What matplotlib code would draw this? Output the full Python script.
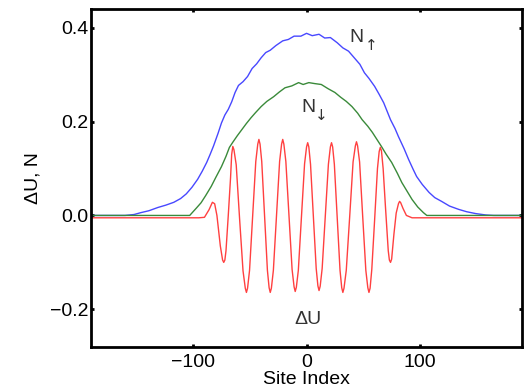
import numpy as np
import matplotlib.pyplot as plt

plt.rcParams['font.family'] = ['Liberation Sans', 'DejaVu Sans']
plt.rcParams['axes.unicode_minus'] = True

# N_up (blue)
up_x = [-190, -160, -152, -146, -139, -131, -124, -117, -111, -106, -101, -96, -92, -88,
        -85, -82, -78, -75, -72, -69, -66, -63, -60, -56, -52, -48, -44, -40, -36, -32,
        -27, -21, -16, -11, -5, 0, 5, 11, 16, 21, 27, 32, 37, 42, 47, 51, 55, 60, 64, 68,
        71, 74, 78, 81, 86, 90, 94, 97, 102, 108, 113, 119, 126, 134, 141, 149, 158, 165, 190]
up_y = [0.0, 0.0, 0.002, 0.006, 0.010, 0.017, 0.022, 0.028, 0.036, 0.046, 0.060, 0.077,
        0.094, 0.113, 0.130, 0.148, 0.175, 0.197, 0.214, 0.226, 0.242, 0.262, 0.277, 0.285,
        0.296, 0.313, 0.323, 0.336, 0.347, 0.352, 0.362, 0.372, 0.375, 0.382, 0.382, 0.388,
        0.383, 0.386, 0.378, 0.379, 0.368, 0.357, 0.350, 0.336, 0.322, 0.304, 0.292, 0.275,
        0.258, 0.240, 0.222, 0.204, 0.185, 0.168, 0.142, 0.119, 0.098, 0.083, 0.066, 0.049,
        0.038, 0.030, 0.020, 0.013, 0.008, 0.004, 0.001, 0.0, 0.0]

# N_down (green)
dn_x = [-190, -103, -100, -97, -93, -89, -84, -80, -75, -71, -68, -65, -61, -57, -53, -49,
        -45, -40, -35, -29, -24, -19, -13, -7, -3, 2, 7, 13, 19, 25, 30, 35, 40, 45, 49, 54,
        58, 62, 66, 70, 75, 80, 84, 89, 93, 98, 103, 106, 190]
dn_y = [0.0, 0.0, 0.008, 0.016, 0.027, 0.042, 0.062, 0.081, 0.104, 0.126, 0.145, 0.156,
        0.170, 0.183, 0.196, 0.208, 0.219, 0.232, 0.243, 0.253, 0.263, 0.272, 0.276, 0.283,
        0.279, 0.283, 0.281, 0.279, 0.270, 0.262, 0.252, 0.243, 0.232, 0.218, 0.204, 0.190,
        0.177, 0.162, 0.147, 0.131, 0.113, 0.090, 0.070, 0.050, 0.034, 0.018, 0.006, 0.0, 0.0]

# Delta U (red)
du_x = [-190, -95, -90, -86, -83, -81, -79, -76, -74, -73, -72, -71, -69, -67, -66, -65, -64,
        -62, -59, -56, -54, -53, -52, -50.25, -47.5, -44.75, -43, -42, -41, -39.5, -37, -34.5, -33, -32,
        -31, -29.25, -26.5, -23.75, -22, -21, -20, -18.25, -15.5, -12.75, -11, -10, -9, -7.25, -4.5, -1.75, 0, 1,
        2, 3.5, 6, 8.5, 10, 11, 12, 13.75, 16.5, 19.25, 21, 22, 23, 24.5, 27, 29.5, 31, 32,
        33, 35, 38, 41, 43, 44, 45, 46.75, 49.5, 52.25, 54, 55, 56, 57.5, 60, 62.5, 64, 65, 66,
        67.5, 69.5, 72, 73, 74, 75, 77, 79, 81, 82, 83, 85, 88, 93, 190]
du_y = [-0.005, -0.005, -0.004, 0.012, 0.028, 0.025, 0.0, -0.065, -0.095, -0.100, -0.095, -0.075, 0.0, 0.080, 0.130, 0.147, 0.140,
        0.108, -0.008, -0.118, -0.155, -0.164, -0.155, -0.117, -0.001, 0.115, 0.152, 0.162, 0.152, 0.115, -0.001, -0.117, -0.154, -0.164,
        -0.155, -0.117, -0.001, 0.115, 0.152, 0.162, 0.152, 0.115, 0.0, -0.115, -0.152, -0.162, -0.153, -0.117, -0.003, 0.110, 0.146, 0.155,
        0.146, 0.109, -0.002, -0.113, -0.150, -0.160, -0.151, -0.113, -0.002, 0.109, 0.146, 0.155, 0.146, 0.109, -0.004, -0.117, -0.154, -0.164,
        -0.155, -0.117, -0.003, 0.114, 0.148, 0.157, 0.148, 0.114, -0.003, -0.117, -0.154, -0.164, -0.155, -0.115, -0.009, 0.100, 0.136, 0.145, 0.138,
        0.100, 0.020, -0.075, -0.095, -0.100, -0.093, -0.040, 0.005, 0.025, 0.030, 0.027, 0.015, 0.0, -0.005, -0.005]

fig = plt.figure(figsize=(5.29, 3.88), dpi=100)
ax = fig.add_axes([0.172, 0.106, 0.815, 0.871])

ax.plot(up_x, up_y, color='#4848ff', lw=1.0)
ax.plot(dn_x, dn_y, color='#3a8a3a', lw=1.0)
ax.plot(du_x, du_y, color='#ff4040', lw=1.0)

ax.set_xlim(-190, 190)
ax.set_ylim(-0.28, 0.44)
ax.set_xticks([-100, 0, 100])
ax.set_yticks([-0.2, 0.0, 0.2, 0.4])
ax.set_yticklabels(['\u22120.2', '0.0', '0.2', '0.4'])

for s in ax.spines.values():
    s.set_linewidth(2)
ax.tick_params(direction='in', length=2.5, width=2, top=True, right=True,
               labelsize=14, pad=2, colors='black')
ax.tick_params(axis='x', pad=5)

ax.set_xlabel('Site Index', fontsize=14, labelpad=0)
ax.set_ylabel('\u0394U, N', fontsize=14, labelpad=6)

ax.text(38, 0.37, 'N', fontsize=14, color='#333333')
ax.text(51, 0.353, '\u2191', fontsize=11, color='#333333', family='DejaVu Sans')
ax.text(-4.5, 0.221, 'N', fontsize=14, color='#333333')
ax.text(7.5, 0.203, '\u2193', fontsize=11, color='#333333', family='DejaVu Sans')
ax.text(-10.5, -0.232, '\u0394U', fontsize=14, color='#333333')

fig.savefig('out.png', dpi=100)
